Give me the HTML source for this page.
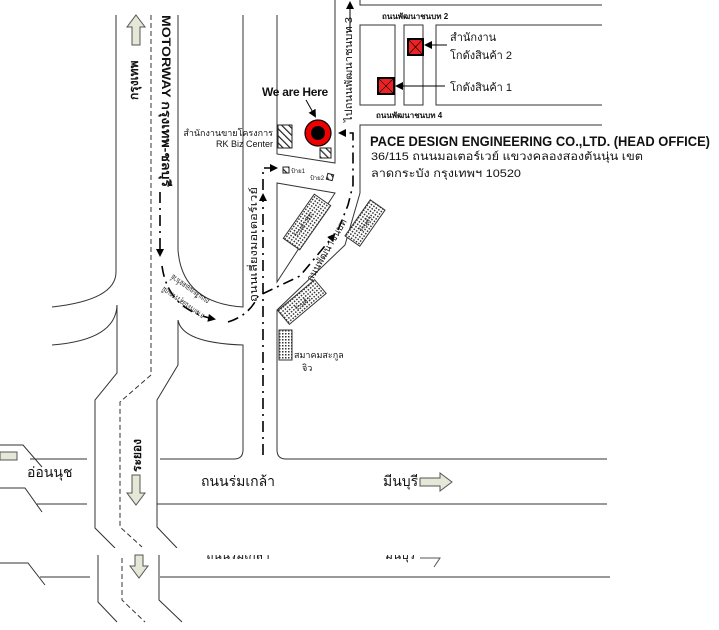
<!DOCTYPE html>
<html><head><meta charset="utf-8"><style>
html,body{margin:0;padding:0;background:#fff;}
svg{display:block;}
text{font-family:"Liberation Sans","DejaVu Sans",sans-serif;fill:#111;}
</style></head><body>
<svg width="719" height="630" viewBox="0 0 719 630" xmlns="http://www.w3.org/2000/svg">
<defs>
<pattern id="dots" width="3" height="3" patternUnits="userSpaceOnUse">
<rect width="3" height="3" fill="#fff"/><rect width="1.5" height="1.5" fill="#333"/></pattern>
<pattern id="hatch" width="5" height="5" patternUnits="userSpaceOnUse" patternTransform="rotate(-45)">
<rect width="5" height="5" fill="#fff"/><rect width="1.2" height="5" fill="#222"/></pattern>
<marker id="ah" markerWidth="8" markerHeight="8" refX="6" refY="4" orient="auto" markerUnits="userSpaceOnUse">
<path d="M0,0 L8,4 L0,8 Z" fill="#000"/></marker>
</defs>
<g fill="none" stroke="#333" stroke-width="1">
<!-- motorway left -->
<path d="M116,15 V272 Q116,300 52,307"/>
<path d="M52,345 Q116,340 117,305 V373 L95,400 V528 L115,548"/>
<path d="M151,15 V375 L120,402 V527 L142,547" stroke-dasharray="5,3"/>
<path d="M178,15 V250 Q182,303 243,307 V15"/>
<path d="M178,320 Q182,343 243,345 V450 Q243,459 234,459 H160"/>
<path d="M178,320 V365 L157,400 V527 L177,548"/>
<!-- lower motorway -->
<path d="M98,555 V602 L117,622"/>
<path d="M122,558 V600 L145,622" stroke-dasharray="5,3"/>
<path d="M159,555 V600 L182,622"/>
<!-- left roads -->
<path d="M30,459 H87"/><path d="M37,504 H87"/>
<path d="M0,445 H23 L42,467"/><path d="M0,488 H25 L42,512"/>
<path d="M0,563 H28 L45,585"/><path d="M40,577 H90"/>
<!-- main road -->
<path d="M157,504 H607"/><path d="M160,577 H610"/>
<!-- building block -->
<path d="M277,15 V154 L335,163 V0"/>
<path d="M277,183 L335,193 L277,282 Z"/>
<path d="M602,125 H360 V193 L345,245 L277,310 V450 Q277,459 286,459 H607"/>
<!-- right blocks -->
<path d="M360,0 V5 H602"/>
<rect x="360" y="25" width="35" height="80"/>
<rect x="404" y="25" width="19" height="80"/>
<path d="M602,25 H436 V105 H602"/>
</g>
<!-- white cut band -->
<rect x="0" y="548" width="719" height="7" fill="#fff"/>
<!-- arrows (block) -->
<g fill="#e5e8d6" stroke="#555" stroke-width="1">
<path d="M136,15 L145,27 H140 V45 H132 V27 H127 Z"/>
<path d="M132,475 H140 V493 H145 L136,505 L127,493 H132 Z"/>
<path d="M135,555 H143 V566 H148 L139,578 L130,566 H135 Z"/>
<path d="M0,452 H17 V460 H0 Z"/>
<path d="M420,478 H440 V473 L452,482 L440,491 V486 H420 Z"/>
</g>
<!-- dash-dot route -->
<g fill="none" stroke="#000" stroke-width="1.6" stroke-dasharray="11,5,2,5">
<path d="M160,192 V255" marker-end="url(#ah)"/>
<path d="M162,266 Q168,310 214,319" marker-end="url(#ah)"/>
<path d="M228,322 Q250,315 258,296 L300,276 L334,235" marker-end="url(#ah)"/>
<path d="M338,230 L348,205 L353,185 V133 H340" marker-end="url(#ah)"/>
<path d="M263,455 V195" marker-end="url(#ah)"/>
<path d="M263,190 V168 H276" marker-end="url(#ah)"/>
</g>
<!-- buildings -->
<g stroke="#333" stroke-width="1" fill="url(#dots)">
<rect x="-27" y="-10" width="54" height="20" transform="translate(307,222) rotate(-55)"/>
<rect x="-22" y="-9" width="44" height="18" transform="translate(365,223) rotate(-55)"/>
<rect x="-24" y="-9" width="48" height="18" transform="translate(302,302) rotate(-40)"/>
<rect x="279" y="330" width="13" height="30"/>
</g>
<g font-size="6">
<text transform="translate(305,226) rotate(-55)" text-anchor="middle">ร้านค้า RK</text>
<text transform="translate(367,225) rotate(-55)" text-anchor="middle">ร้านค้า</text>
<text transform="translate(304,305) rotate(-40)" text-anchor="middle">ร้านค้า</text>
</g>
<!-- hatched -->
<rect x="278" y="125" width="14" height="23" fill="url(#hatch)" stroke="#222"/>
<rect x="320" y="148" width="11" height="10" fill="url(#hatch)" stroke="#222"/>
<rect x="283" y="167" width="6" height="6" fill="url(#hatch)" stroke="#222"/>
<rect x="327" y="174" width="6" height="6" fill="url(#hatch)" stroke="#222" transform="rotate(15 330 177)"/>
<text x="291" y="173" font-size="6">ป้าย1</text>
<text x="310" y="180" font-size="6">ป้าย2</text>
<!-- target -->
<circle cx="318" cy="133" r="13" fill="#e00" stroke="#000" stroke-width="1.2"/>
<circle cx="318" cy="133" r="7" fill="#000"/>
<text x="262" y="96" font-size="12" font-weight="bold" letter-spacing="-0.3">We are Here</text>
<line x1="306" y1="100" x2="315" y2="116" stroke="#000" marker-end="url(#ah)"/>
<text x="273" y="136" font-size="9" text-anchor="end">สำนักงานขายโครงการ</text>
<text x="273" y="147" font-size="9" text-anchor="end">RK Biz Center</text>
<!-- red boxes -->
<g stroke="#000">
<rect x="408" y="39" width="15" height="16" fill="#e22" stroke-width="2"/>
<path d="M408,39 L423,55 M423,39 L408,55" stroke-width="0.6"/>
<rect x="378" y="78" width="16" height="16" fill="#e22" stroke-width="2"/>
<path d="M378,78 L394,94 M394,78 L378,94" stroke-width="0.6"/>
<line x1="447" y1="45" x2="426" y2="45" marker-end="url(#ah)"/>
<line x1="445" y1="86" x2="397" y2="86" marker-end="url(#ah)"/>
<line x1="350" y1="32" x2="350" y2="3" marker-end="url(#ah)"/>
</g>
<text x="450" y="41" font-size="11">สำนักงาน</text>
<text x="450" y="59" font-size="11">โกดังสินค้า 2</text>
<text x="450" y="91" font-size="11">โกดังสินค้า 1</text>
<text x="382" y="19" font-size="8" font-weight="bold">ถนนพัฒนาชนบท 2</text>
<text x="376" y="118" font-size="8" font-weight="bold">ถนนพัฒนาชนบท 4</text>
<text x="370" y="146" font-size="14" font-weight="bold" textLength="340" lengthAdjust="spacingAndGlyphs">PACE DESIGN ENGINEERING CO.,LTD. (HEAD OFFICE)</text>
<text x="371" y="160" font-size="11" textLength="272" lengthAdjust="spacingAndGlyphs">36/115 ถนนมอเตอร์เวย์ แขวงคลองสองต้นนุ่น เขต</text>
<text x="371" y="177" font-size="11" textLength="150" lengthAdjust="spacingAndGlyphs">ลาดกระบัง กรุงเทพฯ 10520</text>
<!-- vertical texts -->
<text transform="translate(162,15) rotate(90)" font-family="Liberation Serif,serif" font-size="12" font-weight="bold" textLength="172" lengthAdjust="spacingAndGlyphs">MOTORWAY กรุงเทพ-ชลบุรี</text>
<text transform="translate(138,100) rotate(-90)" font-family="Liberation Serif,serif" font-size="12" font-weight="bold">กรุงเทพ</text>
<text transform="translate(352,122) rotate(-90)" font-size="10" textLength="105" lengthAdjust="spacingAndGlyphs">ไปถนนพัฒนาชนบท 3</text>
<text transform="translate(257,302) rotate(-90)" font-size="10" textLength="115" lengthAdjust="spacingAndGlyphs">ถนนเลี่ยงมอเตอร์เวย์</text>
<text transform="translate(312,282) rotate(-60)" font-size="10" textLength="70" lengthAdjust="spacingAndGlyphs">ถนนพัฒนาชนบท</text>
<text transform="translate(210,300) rotate(215)" font-size="8" textLength="45" lengthAdjust="spacingAndGlyphs">ถนนเลี่ยงมอเตอร์เวย์</text>
<text transform="translate(205,315) rotate(215)" font-size="8" textLength="50" lengthAdjust="spacingAndGlyphs">ลาดกระบังสุวรรณภูมิ</text>
<text transform="translate(141,472) rotate(-90)" font-family="Liberation Serif,serif" font-size="12" font-weight="bold">ระยอง</text>
<text x="294" y="358" font-size="9">สมาคมสะกูล</text>
<text x="302" y="371" font-size="9">จิว</text>
<!-- road labels -->
<text x="27" y="477" font-family="Liberation Serif,serif" font-size="14">อ่อนนุช</text>
<text x="238" y="486" font-family="Liberation Serif,serif" font-size="14" text-anchor="middle">ถนนร่มเกล้า</text>
<text x="383" y="486" font-family="Liberation Serif,serif" font-size="14">มีนบุรี</text>
<!-- cut mirrored texts -->
<svg x="0" y="555" width="719" height="10" overflow="hidden">
<text x="238" y="4" font-size="12" text-anchor="middle">ถนนร่มเกล้า</text>
<text x="385" y="4" font-size="12">มีนบุรี</text>
</svg>
<path d="M420,558 H440 L434,567" fill="none" stroke="#555"/>
</svg>
</body></html>
